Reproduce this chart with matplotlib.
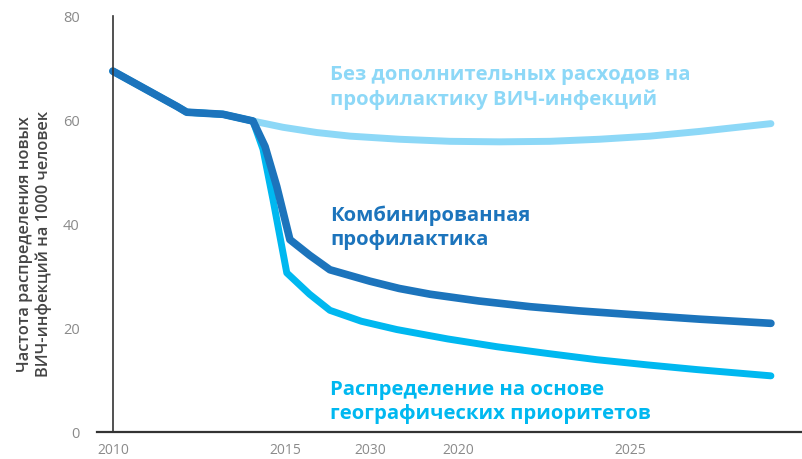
import matplotlib.pyplot as plt

# Данные
годы_база = [2010, 2011.86, 2012.14, 2013.19, 2014.06, 2014.93, 2015.9, 2016.87, 2018.3, 2019.77,
             2021.2, 2022.67, 2024.1, 2025.57, 2027.0, 2029.07]
без_расходов = [69.4, 62.6, 61.5, 61.1, 59.8, 58.6, 57.6, 56.9, 56.3, 55.9,
                55.8, 55.9, 56.3, 56.9, 57.8, 59.3]

годы_комб = [2010, 2011.86, 2012.14, 2013.19, 2014.06, 2014.41, 2014.75, 2015.13, 2015.7, 2016.29,
             2017.45, 2018.3, 2019.19, 2020.6, 2022.09, 2023.5, 2024.99, 2027.0, 2029.07]
комбинированная = [69.4, 62.6, 61.5, 61.1, 59.8, 54.9, 47.2, 37.0, 34.0, 31.2,
                   29.0, 27.6, 26.5, 25.2, 24.1, 23.3, 22.6, 21.7, 20.9]

годы_геогр = [2010, 2011.86, 2012.14, 2013.19, 2014.06, 2014.35, 2014.64, 2015.04, 2015.7, 2016.29,
              2017.2, 2018.23, 2019.7, 2021.13, 2022.6, 2024.03, 2025.5, 2026.93, 2029.07]
географическая = [69.4, 62.6, 61.5, 61.1, 59.8, 54.4, 44.7, 30.6, 26.5, 23.4,
                  21.3, 19.7, 17.9, 16.4, 15.1, 13.9, 12.9, 12.0, 10.8]

позиции_меток = [2010, 2015, 2017.45, 2020, 2025]
подписи_лет = ['2010', '2015', '2030', '2020', '2025']

светлый = '#8dd8f7'
голубой = '#00b8f0'
синий = '#1c74bc'

plt.rcParams['font.family'] = ['Open Sans', 'DejaVu Sans']

fig = plt.figure(figsize=(8.03, 4.6), dpi=100)
ax = fig.add_axes([97 / 803, 27 / 460, 706 / 803, 416 / 460])

стиль = dict(solid_capstyle='round', solid_joinstyle='round')
ax.plot(годы_база, без_расходов, color=светлый, lw=5, **стиль)
ax.plot(годы_геогр, географическая, color=голубой, lw=5, **стиль)
ax.plot(годы_комб, комбинированная, color=синий, lw=5.5, **стиль)

ax.set_xlim(2009.54, 2030)
ax.set_ylim(0, 80)

for s in ['top', 'right']:
    ax.spines[s].set_visible(False)
ax.spines['left'].set_position(('data', 2010))
ax.spines['left'].set_color('#333333')
ax.spines['left'].set_linewidth(1.2)
ax.spines['bottom'].set_color('#333333')
ax.spines['bottom'].set_linewidth(1.6)

ax.set_yticks([0, 20, 40, 60, 80])
ax.tick_params(axis='y', length=0, pad=24, labelsize=10.5, labelcolor='#8a8a8a')
ax.set_yticks([80], minor=True)
ax.tick_params(axis='y', which='minor', length=9, width=1.2, color='#333333')
ax.set_xticks(позиции_меток)
ax.set_xticklabels(подписи_лет)
ax.tick_params(axis='x', length=0, pad=7, labelsize=10, labelcolor='#8a8a8a')

fig.text(0.043, 0.47, 'Частота распределения новых\nВИЧ-инфекций на 1000 человек',
         rotation=90, ha='center', va='center', fontsize=11.8, color='#444444',
         fontweight='semibold', linespacing=1.25)

x_подп = 2016.3
ax.text(x_подп, 66.5, 'Без дополнительных расходов на\nпрофилактику ВИЧ-инфекций',
        color=светлый, fontsize=14.6, fontweight='bold', va='center', linespacing=1.3)
ax.text(x_подп, 39.5, 'Комбинированная\nпрофилактика',
        color=синий, fontsize=14.6, fontweight='bold', va='center', linespacing=1.3)
ax.text(x_подп, 6.0, 'Распределение на основе\nгеографических приоритетов',
        color=голубой, fontsize=14.6, fontweight='bold', va='center', linespacing=1.3)

plt.savefig('out.png', dpi=100)
